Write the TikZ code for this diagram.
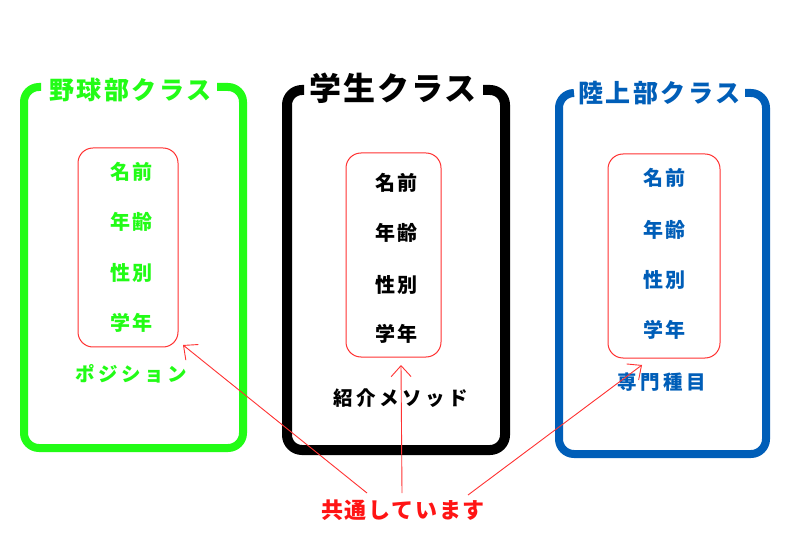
\documentclass[tikz,border=0pt]{standalone}
\usepackage{fontspec}
\setmainfont{Noto Sans CJK JP}
\usetikzlibrary{arrows.meta}
\definecolor{cgreen}{RGB}{34,252,22}
\definecolor{cblue}{RGB}{0,94,184}
\definecolor{cred}{RGB}{255,50,50}
\definecolor{ctred}{RGB}{255,20,20}
\newcommand{\fs}[2]{\fontsize{#1}{#1}\selectfont\addfontfeature{LetterSpace=#2}}
\begin{document}
\begin{tikzpicture}[x=1pt,y=-1pt,
  frame/.style={line width=#1, rounded corners=15pt},
  redbox/.style={draw=cred, line width=1pt, rounded corners=15pt, inner sep=0pt},
  item/.style={font=\bfseries\fs{20}{10}, inner sep=0pt},
  extra/.style={font=\bfseries\fs{19.5}{18}, inner sep=0pt},
  title/.style={font=\bfseries\fs{25}{10}, inner sep=0pt},
  arr/.style={draw=cred, line width=0.9pt, -{Straight Barb[length=11pt,width=20pt]}}
]
\useasboundingbox (0,0) rectangle (800,534);
\fill[white] (0,0) rectangle (800,534);

% left (green) class
\draw[frame=8pt, cgreen] (41,87) -- (24,87) -- (24,448) -- (243,448) -- (243,87) -- (217,87);
\node[title, text=cgreen] (gt) at (130,90) {野球部クラス};
\node[redbox, minimum width=100pt, minimum height=199pt] (gbox) at (128,247.5) {};
\node[item, text=cgreen] (g1) at (131,172) {名前};
\node[item, text=cgreen] (g2) at (131,222) {年齢};
\node[item, text=cgreen] (g3) at (131,273) {性別};
\node[item, text=cgreen] (g4) at (131,323) {学年};
\node[extra, text=cgreen] (g5) at (131,374) {ポジション};

% middle (black) class
\draw[frame=10pt, black] (304,90) -- (287,90) -- (287,450) -- (505,450) -- (505,90) -- (483,90);
\node[font=\bfseries\fs{32}{6}, inner sep=0pt] (mt) at (393,88) {学生クラス};
\node[redbox, minimum width=95pt, minimum height=204pt] (mbox) at (393.5,255) {};
\node[item] (m1) at (396,183) {名前};
\node[item] (m2) at (396,233) {年齢};
\node[item] (m3) at (396,285) {性別};
\node[item] (m4) at (396,334) {学年};
\node[extra] (m5) at (401,398) {紹介メソッド};

% right (blue) class
\draw[frame=8pt, cblue] (574,93) -- (559,93) -- (559,454) -- (766,454) -- (766,93) -- (745,93);
\node[title, text=cblue] (bt) at (659,93) {陸上部クラス};
\node[redbox, minimum width=112pt, minimum height=204pt] (bbox) at (664,256) {};
\node[item, text=cblue] (b1) at (664,178) {名前};
\node[item, text=cblue] (b2) at (664,230) {年齢};
\node[item, text=cblue] (b3) at (664,280) {性別};
\node[item, text=cblue] (b4) at (664,330) {学年};
\node[extra, text=cblue] (b5) at (662,382) {専門種目};

% common label and arrows
\node[font=\bfseries\fs{22}{8}, text=ctred, inner sep=0pt] (common) at (403,510) {共通しています};
\coordinate (s1) at (367,493);
\coordinate (s2) at (402,493);
\coordinate (s3) at (468,495);
\coordinate (t1) at (183,345);
\coordinate (t2) at (401,365);
\coordinate (t3) at (642,365);
\draw[arr] (s1) -- (t1);
\draw[arr] (s2) -- (t2);
\draw[arr] (s3) -- (t3);
\end{tikzpicture}
\end{document}
